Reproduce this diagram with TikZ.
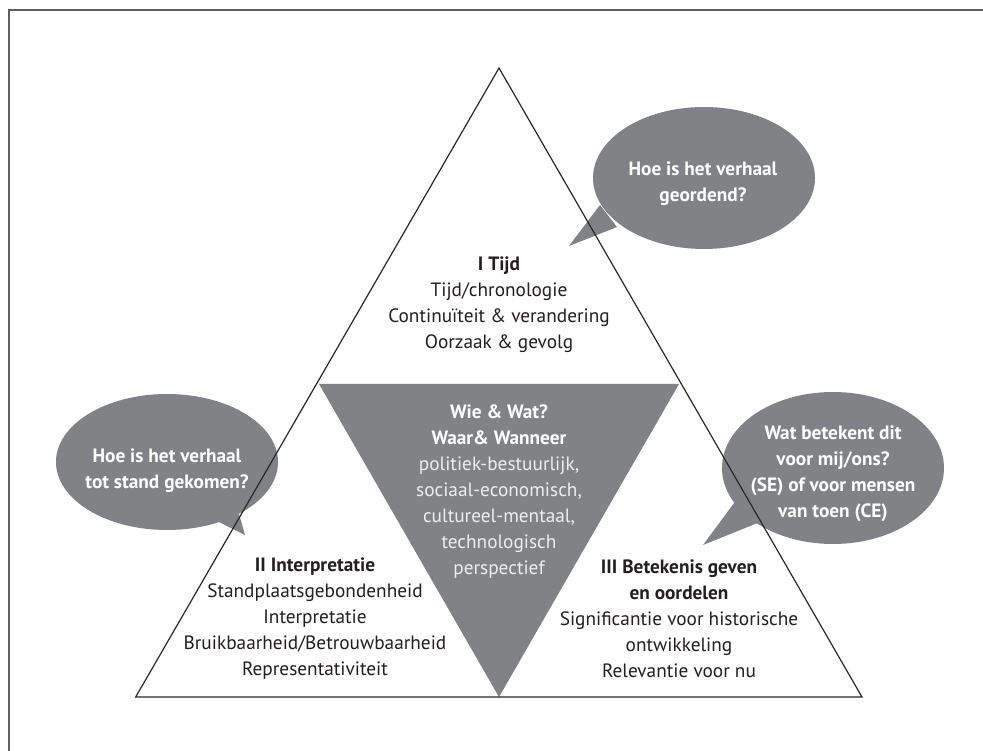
\documentclass[tikz,border=0pt]{standalone}
\usepackage{fontspec}
\setmainfont{PT Sans}
\definecolor{bubgray}{RGB}{128,130,133}
\definecolor{linegray}{RGB}{40,40,40}
\definecolor{framegray}{RGB}{95,95,95}
\definecolor{txt}{RGB}{35,31,32}
\definecolor{softwhite}{RGB}{238,238,238}
\begin{document}
\begin{tikzpicture}[x=1pt,y=-1pt,
  body/.style={align=center,font=\fontsize{19.3}{26}\selectfont,text=txt,inner sep=0pt},
  bubtext/.style={align=center,font=\fontsize{19.3}{26}\selectfont\bfseries,text=white,inner sep=0pt},
  edge/.style={draw=linegray,line width=1.2pt,line join=miter}]
\useasboundingbox (0,0) rectangle (983,751);
\fill[white] (0,0) rectangle (983,751);
% frame
\draw[framegray,line width=2pt] (8.5,751) -- (8.5,10) -- (983,10);
% outer triangle corners
\coordinate (apex) at (499,68);
\coordinate (bl) at (135.7,697);
\coordinate (br) at (862,697);
% inner triangle
\coordinate (itl) at (319,384);
\coordinate (itr) at (679,384);
\coordinate (ib) at (499,697);
\fill[bubgray] (itl) -- (itr) -- (ib) -- cycle;
% bubbles
\coordinate (t1tip) at (569,246);
\coordinate (t1a) at (600,205);
\coordinate (t1b) at (617,227);
\fill[bubgray] (t1a) -- (t1tip) -- (t1b) -- cycle;
\fill[bubgray] (704,178) ellipse [x radius=111, y radius=71];
\coordinate (t2tip) at (245,535);
\coordinate (t2a) at (205,515);
\coordinate (t2b) at (235,500);
\fill[bubgray] (t2a) -- (t2tip) -- (t2b) -- cycle;
\fill[bubgray] (167,462) ellipse [x radius=111, y radius=68];
\coordinate (t3tip) at (703,545);
\coordinate (t3a) at (740,495);
\coordinate (t3b) at (765,520);
\fill[bubgray] (t3a) -- (t3tip) -- (t3b) -- cycle;
\fill[bubgray] (833,468) ellipse [x radius=111, y radius=76];
% outer triangle outline
\draw[edge] (apex) -- (br) -- (bl) -- cycle;
% texts
\node[body] (tijd) at (499,305) {\textbf{I Tijd}\\Tijd/chronologie\\Continuïteit \& verandering\\Oorzaak \& gevolg};
\node[body,text=softwhite] (wie) at (499,492) {\textcolor{white}{\textbf{Wie \& Wat?}}\\\textcolor{white}{\textbf{Waar\& Wanneer}}\\politiek-bestuurlijk,\\sociaal-economisch,\\cultureel-mentaal,\\technologisch\\perspectief};
\node[body] (interp) at (315,619) {\textbf{II Interpretatie}\\Standplaatsgebondenheid\\Interpretatie\\Bruikbaarheid/Betrouwbaarheid\\Representativiteit};
\node[body] (betek) at (679,619) {\textbf{III Betekenis geven}\\\textbf{en oordelen}\\Significantie voor historische\\ontwikkeling\\Relevantie voor nu};
\node[bubtext] (q1) at (703,184) {Hoe is het verhaal\\geordend?};
\node[bubtext] (q2) at (167,471) {Hoe is het verhaal\\tot stand gekomen?};
\node[bubtext] (q3) at (833,474) {Wat betekent dit\\voor mij/ons?\\(SE) of voor mensen\\van toen (CE)};
\end{tikzpicture}
\end{document}
